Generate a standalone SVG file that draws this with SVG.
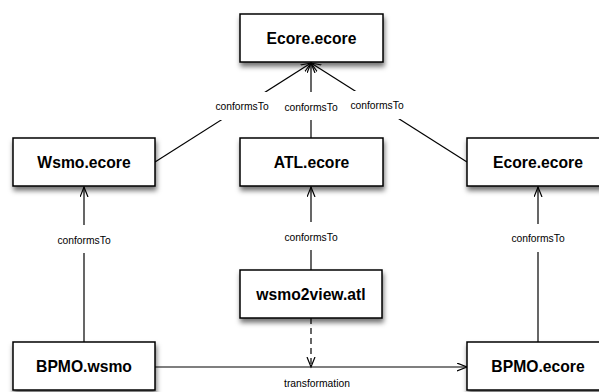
<svg xmlns="http://www.w3.org/2000/svg" width="599" height="392" viewBox="0 0 599 392">
  <style>
    .box { fill: #ffffff; stroke: #000000; stroke-width: 1.5; filter: url(#shadow); }
    .name { font-family: "Liberation Sans", Arial, sans-serif; font-weight: bold; font-size: 15.7px; fill: #000000; text-anchor: middle; }
    .edge { fill: none; stroke: #000000; stroke-width: 1.2; }
    .dashed { stroke-dasharray: 6 4; }
    .lbl-bg { fill: #ffffff; }
    .lbl { font-family: "Liberation Sans", Arial, sans-serif; font-size: 10.3px; fill: #000000; text-anchor: middle; }
  </style>
  <defs>
    <filter id="shadow" x="-20%" y="-30%" width="140%" height="170%">
      <feDropShadow dx="1" dy="4" stdDeviation="2.5" flood-color="#000000" flood-opacity="0.55"/>
    </filter>
    <marker id="open" markerUnits="userSpaceOnUse" markerWidth="12" markerHeight="10" refX="10" refY="4.5" orient="auto">
      <path d="M0,0.5 L10,4.5 L0,8.5" fill="none" stroke="#000000" stroke-width="1.2"/>
    </marker>
  </defs>

  <!-- connectors -->
  <g id="connectors">
    <line class="edge" x1="155" y1="162" x2="311" y2="63" marker-end="url(#open)"/>
    <line class="edge" x1="311" y1="138" x2="311" y2="63" marker-end="url(#open)"/>
    <line class="edge" x1="467" y1="162" x2="311" y2="63" marker-end="url(#open)"/>
    <line class="edge" x1="84" y1="342" x2="84" y2="187" marker-end="url(#open)"/>
    <line class="edge" x1="311" y1="270" x2="311" y2="187" marker-end="url(#open)"/>
    <line class="edge" x1="538" y1="342" x2="538" y2="187" marker-end="url(#open)"/>
    <line class="edge" x1="155" y1="367" x2="467" y2="367" marker-end="url(#open)"/>
    <line class="edge dashed" x1="311" y1="318" x2="311" y2="367" marker-end="url(#open)"/>

    <g>
      <rect class="lbl-bg" x="212" y="92" width="60" height="28"/>
      <text class="lbl" x="242" y="110">conformsTo</text>
    </g>
    <g>
      <rect class="lbl-bg" x="281" y="92" width="60" height="28"/>
      <text class="lbl" x="311" y="111">conformsTo</text>
    </g>
    <g>
      <rect class="lbl-bg" x="347" y="91" width="60" height="28"/>
      <text class="lbl" x="377" y="109">conformsTo</text>
    </g>
    <g>
      <rect class="lbl-bg" x="54" y="225" width="60" height="28"/>
      <text class="lbl" x="84" y="243.5">conformsTo</text>
    </g>
    <g>
      <rect class="lbl-bg" x="281" y="222" width="60" height="28"/>
      <text class="lbl" x="311" y="240.5">conformsTo</text>
    </g>
    <g>
      <rect class="lbl-bg" x="508" y="224" width="60" height="28"/>
      <text class="lbl" x="538" y="242">conformsTo</text>
    </g>
    <text class="lbl" x="317" y="386.5">transformation</text>
  </g>

  <!-- nodes -->
  <g id="ecore-top">
    <rect class="box" x="240" y="14" width="143" height="48"/>
    <text class="name" x="311.5" y="43.5">Ecore.ecore</text>
  </g>
  <g id="wsmo-ecore">
    <rect class="box" x="13" y="138" width="142" height="48"/>
    <text class="name" x="84" y="167.5">Wsmo.ecore</text>
  </g>
  <g id="atl-ecore">
    <rect class="box" x="240" y="138" width="143" height="48"/>
    <text class="name" x="311.5" y="167.5">ATL.ecore</text>
  </g>
  <g id="ecore-right">
    <rect class="box" x="467" y="138" width="142" height="48"/>
    <text class="name" x="538" y="167.5">Ecore.ecore</text>
  </g>
  <g id="wsmo2view-atl">
    <rect class="box" x="240" y="270" width="142" height="48"/>
    <text class="name" x="311" y="299.5">wsmo2view.atl</text>
  </g>
  <g id="bpmo-wsmo">
    <rect class="box" x="13" y="342" width="142" height="48"/>
    <text class="name" x="84" y="371.5">BPMO.wsmo</text>
  </g>
  <g id="bpmo-ecore">
    <rect class="box" x="467" y="342" width="142" height="48"/>
    <text class="name" x="538" y="371.5">BPMO.ecore</text>
  </g>
</svg>
